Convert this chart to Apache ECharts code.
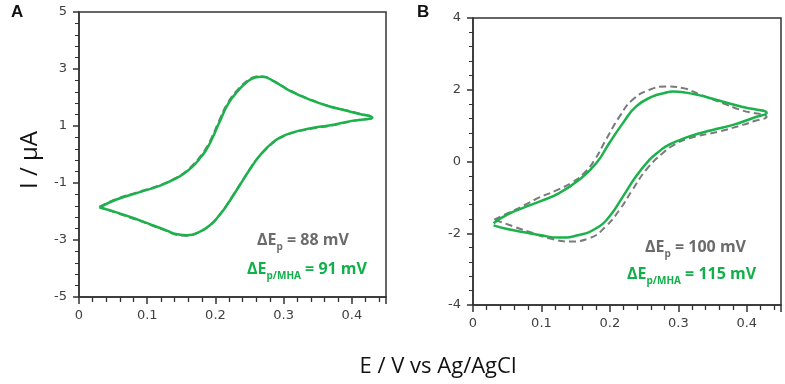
<!DOCTYPE html>
<html>
<head>
<meta charset="utf-8">
<script src="https://cdn.jsdelivr.net/npm/echarts@6/dist/echarts.min.js"></script>
<style>
  html, body { margin: 0; padding: 0; background: #fff; }
  #chart { width: 785px; height: 384px; }
</style>
</head>
<body>
<div id="chart"></div>
<script>
// Panel A: potential (V) and current (uA), loop from left vertex, forward then return
const aGreenE = [0.030, 0.055, 0.089, 0.118, 0.137, 0.152, 0.166, 0.176, 0.186, 0.195, 0.205, 0.219, 0.234, 0.248, 0.258, 0.268, 0.287, 0.310, 0.340, 0.365, 0.388, 0.410, 0.430,
  0.400, 0.369, 0.340, 0.311, 0.292, 0.282, 0.272, 0.263, 0.253, 0.234, 0.215, 0.205, 0.195, 0.176, 0.157, 0.140, 0.128, 0.110, 0.089, 0.055, 0.030];
const aGreenI = [-1.86, -1.58, -1.32, -1.10, -0.90, -0.70, -0.43, -0.17, 0.15, 0.55, 1.09, 1.79, 2.26, 2.58, 2.70, 2.73, 2.55, 2.22, 1.91, 1.70, 1.56, 1.43, 1.30,
  1.18, 1.03, 0.92, 0.76, 0.56, 0.38, 0.15, -0.10, -0.43, -1.14, -1.84, -2.15, -2.42, -2.72, -2.83, -2.78, -2.66, -2.50, -2.31, -2.03, -1.86];
const aGrayE = [0.030, 0.055, 0.089, 0.118, 0.137, 0.152, 0.165, 0.175, 0.185, 0.194, 0.204, 0.218, 0.233, 0.247, 0.257, 0.267, 0.286, 0.310, 0.340, 0.365, 0.388, 0.410, 0.430,
  0.400, 0.369, 0.340, 0.311, 0.292, 0.282, 0.272, 0.262, 0.252, 0.233, 0.214, 0.204, 0.194, 0.175, 0.156, 0.140, 0.128, 0.110, 0.089, 0.055, 0.030];
const aGrayI = [-1.83, -1.56, -1.30, -1.08, -0.88, -0.68, -0.41, -0.15, 0.17, 0.57, 1.11, 1.81, 2.28, 2.60, 2.72, 2.75, 2.57, 2.24, 1.92, 1.71, 1.57, 1.44, 1.31,
  1.17, 1.01, 0.90, 0.74, 0.54, 0.36, 0.13, -0.12, -0.45, -1.16, -1.86, -2.17, -2.44, -2.74, -2.85, -2.80, -2.68, -2.52, -2.33, -2.05, -1.83];

// Panel B
const bGreenE = [0.030, 0.050, 0.075, 0.097, 0.126, 0.155, 0.180, 0.199, 0.219, 0.238, 0.262, 0.280, 0.292, 0.311, 0.330, 0.355, 0.394, 0.429,
  0.410, 0.380, 0.350, 0.316, 0.300, 0.282, 0.270, 0.258, 0.238, 0.219, 0.199, 0.180, 0.155, 0.126, 0.097, 0.075, 0.050, 0.030];
const bGreenI = [-1.72, -1.48, -1.28, -1.12, -0.88, -0.51, -0.05, 0.51, 1.07, 1.53, 1.81, 1.91, 1.95, 1.92, 1.85, 1.72, 1.52, 1.35,
  1.22, 1.02, 0.88, 0.70, 0.58, 0.42, 0.25, 0.05, -0.42, -0.98, -1.54, -1.86, -2.05, -2.12, -2.05, -1.97, -1.88, -1.78];
const bGrayE = [0.031, 0.050, 0.075, 0.097, 0.120, 0.145, 0.162, 0.177, 0.194, 0.214, 0.233, 0.258, 0.282, 0.306, 0.330, 0.360, 0.394, 0.429,
  0.410, 0.394, 0.360, 0.316, 0.295, 0.277, 0.253, 0.233, 0.214, 0.194, 0.170, 0.141, 0.111, 0.085, 0.062, 0.031];
const bGrayI = [-1.62, -1.45, -1.22, -1.00, -0.82, -0.58, -0.33, 0.02, 0.60, 1.25, 1.72, 2.00, 2.09, 2.05, 1.88, 1.66, 1.42, 1.24,
  1.12, 1.02, 0.84, 0.65, 0.48, 0.23, -0.23, -0.79, -1.35, -1.81, -2.14, -2.23, -2.14, -1.98, -1.83, -1.62];

const green = '#1bb24b';
const gray = '#7a7a7a';
const axisColor = '#333';

function pairs(e, i) {
  return e.map((v, k) => [v, i[k]]);
}

const chart = echarts.init(document.getElementById('chart'), null, { renderer: 'canvas' });

const tickLabel = { color: '#404040', fontFamily: 'DejaVu Sans', fontSize: 13 };

function xAxis(grid) {
  return {
    type: 'value', gridIndex: grid, min: 0, max: 0.45, interval: 0.1, position: 'bottom',
    axisLine: { onZero: false, lineStyle: { color: axisColor, width: 1.5 } },
    axisTick: { length: 7, lineStyle: { color: axisColor, width: 1.5 } },
    minorTick: { show: true, splitNumber: 5, length: 5, lineStyle: { color: axisColor, width: 1.3 } },
    axisLabel: { ...tickLabel, margin: 12, showMaxLabel: false },
    splitLine: { show: false },
    minorSplitLine: { show: false },
  };
}

function yAxis(grid, min, max) {
  return {
    type: 'value', gridIndex: grid, min, max, interval: 2,
    axisLine: { onZero: false, lineStyle: { color: axisColor, width: 1.5 } },
    axisTick: { length: 6, lineStyle: { color: axisColor, width: 1.5 } },
    minorTick: { show: true, splitNumber: 5, length: 4, lineStyle: { color: axisColor, width: 1 } },
    axisLabel: { ...tickLabel, margin: 12 },
    splitLine: { show: false },
    minorSplitLine: { show: false },
  };
}

function curve(name, x, y, data, color, dashed) {
  return {
    name, type: 'line', xAxisIndex: x, yAxisIndex: y, data,
    smooth: 0.5, symbol: 'none', silent: true,
    z: dashed ? 2 : 3,
    lineStyle: { color, width: dashed ? 2 : 2.5, type: dashed ? [7, 4] : 'solid' },
  };
}

function rich(color) {
  return {
    a: { fontSize: 16, fontWeight: 'bold', fill: color, fontFamily: 'Open Sans', lineHeight: 20, verticalAlign: 'top' },
    s: { fontSize: 10, fontWeight: 'bold', fill: color, fontFamily: 'Open Sans', lineHeight: 12, verticalAlign: 'top', padding: [10, 0, 0, 0] },
  };
}

chart.setOption({
  animation: false,
  grid: [
    { left: 79, top: 12, width: 307, height: 285, show: true, borderColor: axisColor, borderWidth: 1.5, containLabel: false },
    { left: 473, top: 18, width: 308, height: 287, show: true, borderColor: axisColor, borderWidth: 1.5, containLabel: false },
  ],
  xAxis: [xAxis(0), xAxis(1)],
  yAxis: [yAxis(0, -5, 5), yAxis(1, -4, 4)],
  series: [
    curve('A MHA', 0, 0, pairs(aGrayE, aGrayI), gray, true),
    curve('A', 0, 0, pairs(aGreenE, aGreenI), green, false),
    curve('B MHA', 1, 1, pairs(bGrayE, bGrayI), gray, true),
    curve('B', 1, 1, pairs(bGreenE, bGreenI), green, false),
  ],
  graphic: [
    { type: 'text', left: 11, top: 4, style: { text: 'A', font: 'bold 17px "Liberation Sans"', fill: '#111' } },
    { type: 'text', left: 417, top: 4, style: { text: 'B', font: 'bold 17px "Liberation Sans"', fill: '#111' } },
    { type: 'text', x: 30, y: 160, rotation: Math.PI / 2, style: { text: 'I / µA', font: '24px "Open Sans"', fill: '#111', align: 'center', verticalAlign: 'middle' } },
    { type: 'text', x: 438, y: 367, style: { text: 'E / V vs Ag/AgCl', font: '22px "Open Sans"', fill: '#111', align: 'center', verticalAlign: 'middle' } },
    { type: 'text', x: 257, y: 232, style: { text: '{a|ΔE}{s|p}{a| = 88 mV}', rich: rich('#6b6b6b') } },
    { type: 'text', x: 247, y: 261, style: { text: '{a|ΔE}{s|p/MHA}{a| = 91 mV}', rich: rich('#12b04a') } },
    { type: 'text', x: 645, y: 239, style: { text: '{a|ΔE}{s|p}{a| = 100 mV}', rich: rich('#6b6b6b') } },
    { type: 'text', x: 627, y: 266, style: { text: '{a|ΔE}{s|p/MHA}{a| = 115 mV}', rich: rich('#12b04a') } },
  ],
});
</script>
</body>
</html>
